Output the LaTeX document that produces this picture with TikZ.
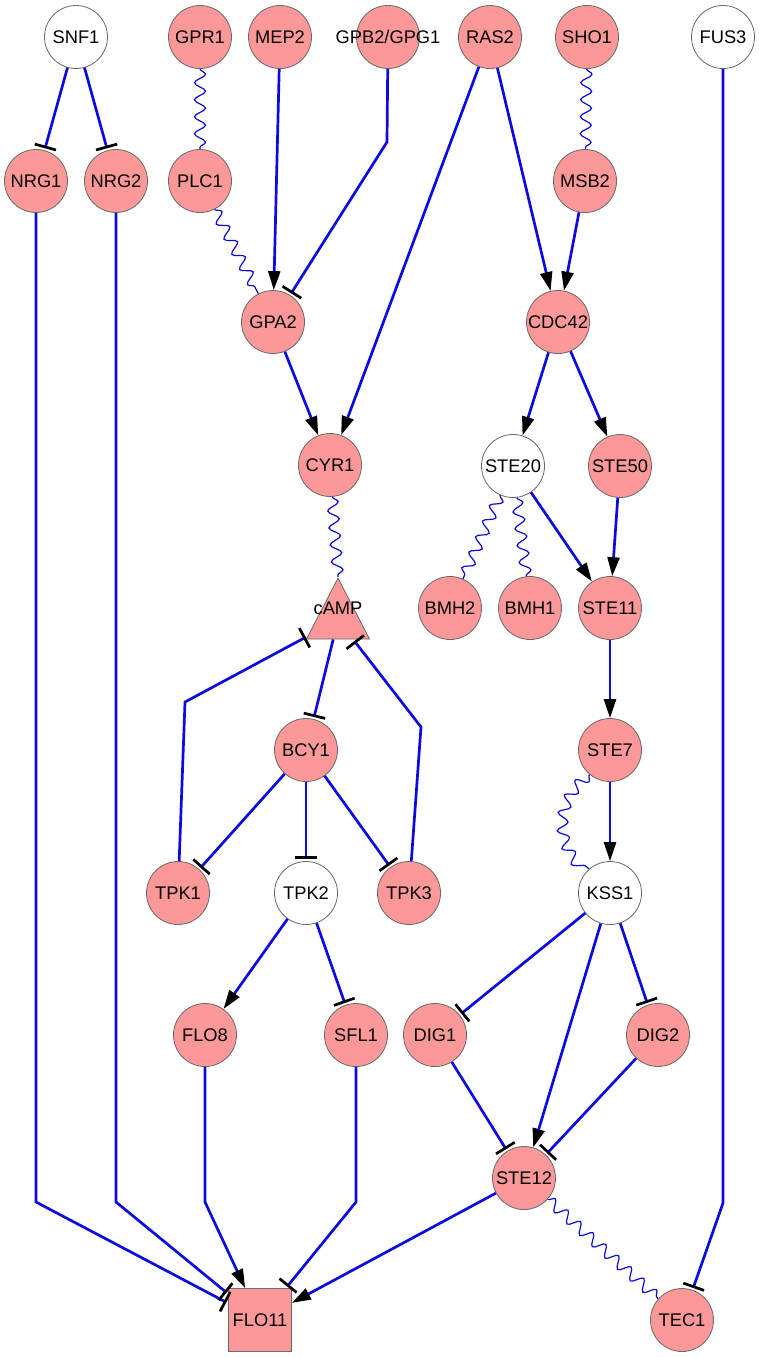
\documentclass[tikz,border=0pt]{standalone}
\usepackage{fontspec}
\setmainfont{Liberation Sans}
\usetikzlibrary{arrows.meta,shapes.geometric,decorations.pathmorphing}
\definecolor{salmon}{RGB}{253,152,152}
\definecolor{ndborder}{RGB}{105,105,105}
\definecolor{edgeblue}{RGB}{10,10,225}
\newcommand{\lbl}[1]{\makebox[0pt]{#1}}
\begin{document}
\begin{tikzpicture}[x=1pt,y=-1pt,
  nd/.style={circle,draw=ndborder,line width=0.8pt,fill=salmon,minimum size=63pt,inner sep=0pt,font=\fontsize{18.3}{20}\selectfont},
  wnd/.style={nd,fill=white},
  tri/.style={isosceles triangle,isosceles triangle stretches,shape border rotate=90,draw=ndborder,line width=0.8pt,fill=salmon,minimum width=63pt,minimum height=61pt,inner sep=0pt},
  lab/.style={inner sep=0pt,font=\fontsize{18.3}{20}\selectfont},
  act/.style={draw=edgeblue,line width=2.7pt,-{Triangle[length=19pt,width=12pt,color=black]}},
  inh/.style={draw=edgeblue,line width=2.7pt,shorten >=2pt,-{Bar[width=22pt,line width=2.7pt,color=black]}},
  wavy/.style={draw=edgeblue,line width=1.2pt,decorate,decoration={snake,segment length=17pt,amplitude=5.5pt}}
]
\useasboundingbox (0,0) rectangle (760,1357);
% row 1
\node[wnd] (SNF1) at (76,37) {\lbl{SNF1}};
\node[nd] (GPR1) at (200,37) {\lbl{GPR1}};
\node[nd] (MEP2) at (280,37) {\lbl{MEP2}};
\node[nd] (GPB2) at (388,37) {\lbl{GPB2/GPG1}};
\node[nd] (RAS2) at (490,37) {\lbl{RAS2}};
\node[nd] (SHO1) at (587,37) {\lbl{SHO1}};
\node[wnd] (FUS3) at (723,37) {\lbl{FUS3}};
% row 2
\node[nd] (NRG1) at (36,181) {\lbl{NRG1}};
\node[nd] (NRG2) at (116,181) {\lbl{NRG2}};
\node[nd] (PLC1) at (200,181) {\lbl{PLC1}};
\node[nd] (MSB2) at (585,181) {\lbl{MSB2}};
% row 3
\node[nd] (GPA2) at (273,322) {\lbl{GPA2}};
\node[nd] (CDC42) at (558,322) {\lbl{CDC42}};
% row 4
\node[nd] (CYR1) at (330,465) {\lbl{CYR1}};
\node[wnd] (STE20) at (513,466) {\lbl{STE20}};
\node[nd] (STE50) at (620,466) {\lbl{STE50}};
% row 5
\node[tri,anchor=apex] (cAMP) at (338,577) {};
\node[lab] (cAMPtext) at (338,608) {\lbl{cAMP}};
\node[nd] (BMH2) at (450,608) {\lbl{BMH2}};
\node[nd] (BMH1) at (530,608) {\lbl{BMH1}};
\node[nd] (STE11) at (610,608) {\lbl{STE11}};
% row 6
\node[nd] (BCY1) at (306,750) {\lbl{BCY1}};
\node[nd] (STE7) at (610,750) {\lbl{STE7}};
% row 7
\node[nd] (TPK1) at (178,893) {\lbl{TPK1}};
\node[wnd] (TPK2) at (306,893) {\lbl{TPK2}};
\node[nd] (TPK3) at (409,893) {\lbl{TPK3}};
\node[wnd] (KSS1) at (610,893) {\lbl{KSS1}};
% row 8
\node[nd] (FLO8) at (205,1035) {\lbl{FLO8}};
\node[nd] (SFL1) at (356,1035) {\lbl{SFL1}};
\node[nd] (DIG1) at (435,1035) {\lbl{DIG1}};
\node[nd] (DIG2) at (658,1035) {\lbl{DIG2}};
% row 9
\node[nd] (STE12) at (524,1178) {\lbl{STE12}};
% row 10
\node[nd,rectangle,minimum size=63pt] (FLO11) at (260,1320) {\lbl{FLO11}};
\node[nd] (TEC1) at (682,1320) {\lbl{TEC1}};
% bend points
\coordinate (bGPB) at (387,142);
\coordinate (bTPK1) at (185,702);
\coordinate (bTPK3) at (421,727);
\coordinate (bNRG1) at (36,1202);
\coordinate (bNRG2) at (116,1202);
\coordinate (bFLO8) at (205,1202);
\coordinate (bSFL1) at (356,1202);
\coordinate (bFUS3) at (723,1203);
% edges
\draw[inh] (SNF1) -- (NRG1);
\draw[inh] (SNF1) -- (NRG2);
\draw[wavy] (GPR1) -- (PLC1);
\draw[act] (MEP2) -- (GPA2);
\draw[inh] (GPB2) -- (bGPB) -- (GPA2);
\draw[wavy] (PLC1) -- (GPA2);
\draw[act] (RAS2) -- (CYR1);
\draw[act] (RAS2) -- (CDC42);
\draw[wavy] (SHO1) -- (MSB2);
\draw[act] (MSB2) -- (CDC42);
\draw[act] (GPA2) -- (CYR1);
\draw[act] (CDC42) -- (STE20);
\draw[act] (CDC42) -- (STE50);
\draw[wavy] (CYR1) -- (cAMP.apex);
\draw[wavy] (STE20) -- (BMH2);
\draw[wavy] (STE20) -- (BMH1);
\draw[act] (STE20) -- (STE11);
\draw[act] (STE50) -- (STE11);
\draw[inh] (cAMP) -- (BCY1);
\draw[act] (STE11) -- (STE7);
\draw[inh] (BCY1) -- (TPK1);
\draw[inh] (BCY1) -- (TPK2);
\draw[inh] (BCY1) -- (TPK3);
\draw[inh] (TPK1) -- (bTPK1) -- (cAMP);
\draw[inh] (TPK3) -- (bTPK3) -- (cAMP);
\draw[act] (STE7) -- (KSS1);
\draw[wavy] (STE7.230) .. controls (558,800) and (558,843) .. (KSS1.131);
\draw[act] (TPK2) -- (FLO8);
\draw[inh] (TPK2) -- (SFL1);
\draw[inh] (KSS1) -- (DIG1);
\draw[act] (KSS1) -- (STE12);
\draw[inh] (KSS1) -- (DIG2);
\draw[inh] (DIG1) -- (STE12);
\draw[inh] (DIG2) -- (STE12);
\draw[inh] (FUS3) -- (bFUS3) -- (TEC1);
\draw[wavy] (STE12) -- (TEC1);
\draw[act] (STE12) -- (FLO11);
\draw[inh] (NRG1) -- (bNRG1) -- (FLO11);
\draw[inh] (NRG2) -- (bNRG2) -- (FLO11);
\draw[act] (FLO8) -- (bFLO8) -- (FLO11);
\draw[inh] (SFL1) -- (bSFL1) -- (FLO11);
\end{tikzpicture}
\end{document}
